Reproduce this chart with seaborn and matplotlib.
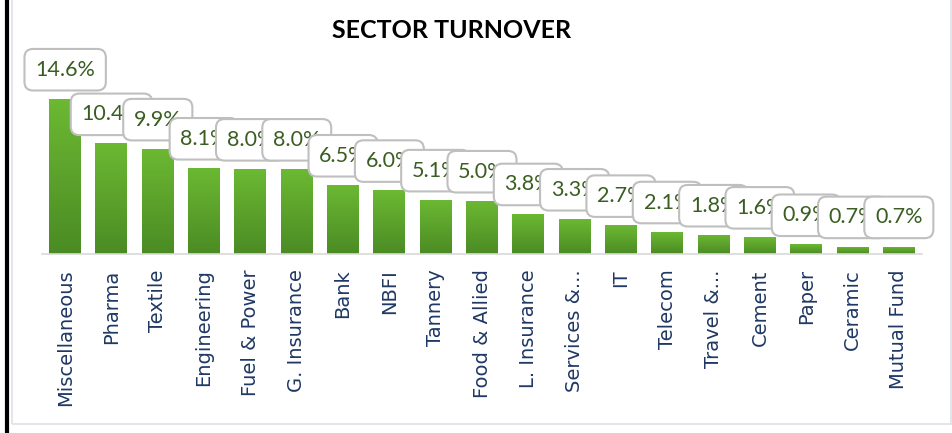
import numpy as np
import pandas as pd
import matplotlib.pyplot as plt
import seaborn as sns
from matplotlib.patches import Rectangle
from matplotlib.lines import Line2D

# Sector turnover share (%)
sectors = ['Miscellaneous', 'Pharma', 'Textile', 'Engineering', 'Fuel & Power',
           'G. Insurance', 'Bank', 'NBFI', 'Tannery', 'Food & Allied',
           'L. Insurance', 'Services &...', 'IT', 'Telecom', 'Travel &...',
           'Cement', 'Paper', 'Ceramic', 'Mutual Fund']
turnover = [14.6, 10.4, 9.9, 8.1, 8.0, 8.0, 6.5, 6.0, 5.1, 5.0,
            3.8, 3.3, 2.7, 2.1, 1.8, 1.6, 0.9, 0.7, 0.7]

data = pd.DataFrame({'Sector': sectors, 'Turnover': turnover})

sns.set_style('white')
plt.rcParams['font.family'] = ['DejaVu Sans']

fig = plt.figure(figsize=(9.53, 4.33), dpi=100)
ax = fig.add_axes([42 / 953, (433 - 254) / 433, 880 / 953, 204 / 433])

sns.barplot(data=data, x='Sector', y='Turnover', color='#5FA52E',
            width=0.69, ax=ax, saturation=1)

# vertical green gradient on each bar
grad = np.linspace(0, 1, 256).reshape(-1, 1)
cmap = sns.blend_palette(['#4B8B24', '#6CB933'], as_cmap=True)
for bar in ax.patches:
    x0, y0 = bar.get_x(), bar.get_y()
    w, h = bar.get_width(), bar.get_height()
    im = ax.imshow(grad, cmap=cmap, aspect='auto', origin='lower',
                   extent=[x0, x0 + w, y0, y0 + h], zorder=2)
    im.set_clip_path(bar)
    bar.set_edgecolor('none')
ax.set_xlim(-0.5, len(sectors) - 0.5)
ax.set_ylim(0, 19.2)

# value labels in rounded boxes
for i, v in enumerate(turnover):
    ax.annotate(f'{v:.1f}%', xy=(i, v), xytext=(0, 21), textcoords='offset points',
                ha='center', va='center', fontsize=15.5, color='#3A5E22',
                family='Lato', zorder=5 + i,
                bbox=dict(boxstyle='round,pad=0.5,rounding_size=0.4',
                          fc='white', ec='#BFBFBF', lw=1.5))

ax.set_xlabel('')
ax.set_ylabel('')
ax.set_yticks([])
ax.tick_params(axis='x', length=0, pad=11)
plt.setp(ax.get_xticklabels(), rotation=90, fontsize=14, color='#1F3864',
         va='top', ha='center')

for side in ['top', 'right', 'left']:
    ax.spines[side].set_visible(False)
ax.spines['bottom'].set_color('#D9D9D9')
ax.spines['bottom'].set_linewidth(1.2)

fig.text(452 / 953, 1 - 30 / 433, 'SECTOR TURNOVER', ha='center', va='center',
         fontsize=18, fontweight='bold', family='Lato', color='black')

# outer frame
fig.add_artist(Rectangle((12.5 / 953, 1 - 424 / 433), (951 - 12.5) / 953, 1,
                         transform=fig.transFigure, fill=False,
                         ec='#DDE1E6', lw=1.2))
fig.add_artist(Line2D([7 / 953, 7 / 953], [0, 1], transform=fig.transFigure,
                      color='black', lw=3))

fig.savefig('out.png', dpi=100)
plt.close()
